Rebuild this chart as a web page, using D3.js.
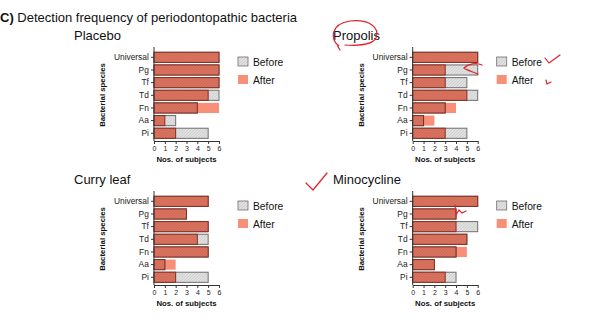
<!DOCTYPE html>
<html><head><meta charset="utf-8">
<script src="https://cdn.jsdelivr.net/npm/d3@7"></script>
<style>
body{margin:0;background:#fff;}
svg{display:block;font-family:"Liberation Sans",Arial,sans-serif;}
</style></head>
<body><svg id="c" width="602" height="328"></svg>
<script>
const categories = ["Universal","Pg","Tf","Td","Fn","Aa","Pi"];
const panelNames = ["Placebo","Propolis","Curry leaf","Minocycline"];
const beforePlacebo = [6,6,6,6,4,2,5];
const afterPlacebo  = [6,6,6,5,6,1,2];
const beforePropolis = [6,6,5,6,3,1,5];
const afterPropolis  = [6,3,3,5,4,2,3];
const beforeCurry = [5,3,5,5,5,1,5];
const afterCurry  = [5,3,5,4,5,2,2];
const beforeMino = [6,4,6,5,4,2,4];
const afterMino  = [6,4,4,5,5,2,3];
const xTicks = [0,1,2,3,4,5,6];
const legendLabels = ["Before","After"];

const panels = [
  {name:panelNames[0], before:beforePlacebo, after:afterPlacebo, ax:154, top:51, tx:74, ty:40},
  {name:panelNames[1], before:beforePropolis, after:afterPropolis, ax:412.7, top:51, tx:333, ty:40},
  {name:panelNames[2], before:beforeCurry, after:afterCurry, ax:154, top:195, tx:74, ty:184},
  {name:panelNames[3], before:beforeMino, after:afterMino, ax:412.7, top:195, tx:333, ty:184}
];

const svg = d3.select("#c");
const defs = svg.append("defs");
function hatch(id, bg, fg){
  const p = defs.append("pattern").attr("id",id).attr("patternUnits","userSpaceOnUse")
    .attr("width",3).attr("height",3);
  p.append("rect").attr("width",3).attr("height",3).attr("fill",bg);
  p.append("path").attr("d","M0,3L3,0").attr("stroke",fg).attr("stroke-width",0.6);
}
hatch("hGrey","#e0e0e0","#c4c4c4");
hatch("hRed","#d9725e","#c9624f");

const colOverlapStroke = "#7d3024";
const colGreyStroke = "#6e6e6e";
const colAfter = "#f88f79";

svg.append("text").attr("x",0).attr("y",22).attr("font-size",13).attr("fill","#111")
  .html('<tspan font-weight="bold">C)</tspan> Detection frequency of periodontopathic bacteria');

panels.forEach(P=>{
  const g = svg.append("g");
  const x = d3.scaleLinear().domain([0,6]).range([P.ax, P.ax+65]);
  const y = d3.scaleBand().domain(categories).range([P.top, P.top+88.6]).paddingInner(0.2).paddingOuter(0.1);
  const data = categories.map((c,i)=>({c, b:P.before[i], a:P.after[i]}));
  const bottom = P.top+90;

  g.append("text").attr("x",P.tx).attr("y",P.ty).attr("font-size",13).attr("fill","#111").text(P.name);

  g.selectAll(".aft").data(data).join("rect")
    .attr("x",x(0)).attr("y",d=>y(d.c)).attr("width",d=>x(d.a)-x(0)).attr("height",y.bandwidth())
    .attr("fill",colAfter);
  g.selectAll(".bef").data(data).join("rect")
    .attr("x",x(0)).attr("y",d=>y(d.c)).attr("width",d=>x(d.b)-x(0)).attr("height",y.bandwidth())
    .attr("fill","url(#hGrey)").attr("stroke",colGreyStroke).attr("stroke-width",1);
  g.selectAll(".ov").data(data).join("rect")
    .attr("x",x(0)).attr("y",d=>y(d.c)).attr("width",d=>x(Math.min(d.a,d.b))-x(0)).attr("height",y.bandwidth())
    .attr("fill","url(#hRed)").attr("stroke",colOverlapStroke).attr("stroke-width",1);

  const xa = g.append("g").attr("transform",`translate(0,${bottom})`)
    .call(d3.axisBottom(x).tickValues(xTicks).tickFormat(d3.format("d")).tickSize(3).tickSizeOuter(0));
  xa.select(".domain").attr("stroke","#333");
  xa.selectAll("line").attr("stroke","#333");
  xa.selectAll("text").attr("font-size",7).attr("fill","#222").attr("dy","0.6em");
  const ya = g.append("g").attr("transform",`translate(${P.ax},0)`)
    .call(d3.axisLeft(y).tickSize(3).tickSizeOuter(0));
  ya.select(".domain").attr("d",`M0,${P.top-4}V${bottom}`).attr("stroke","#333");
  ya.selectAll("line").attr("stroke","#333");
  ya.selectAll("text").attr("font-size",8.4).attr("fill","#222").attr("dx","0.1em");

  g.append("text").attr("x",P.ax+32.5).attr("y",bottom+21).attr("text-anchor","middle")
    .attr("font-size",7.8).attr("font-weight","bold").attr("fill","#111").text("Nos. of subjects");
  g.append("text").attr("transform",`translate(${P.ax-49},${P.top+44}) rotate(-90)`).attr("text-anchor","middle")
    .attr("font-size",7.8).attr("font-weight","bold").attr("fill","#111").text("Bacterial species");

  const lx = P.ax+84, ly = P.top+6;
  legendLabels.forEach((t,i)=>{
    g.append("rect").attr("x",lx).attr("y",ly+i*18).attr("width",10).attr("height",9)
      .attr("fill", i===0?"url(#hGrey)":colAfter).attr("stroke", i===0?colGreyStroke:"none").attr("stroke-width",0.8);
    g.append("text").attr("x",lx+15).attr("y",ly+i*18+8.5).attr("font-size",10.3).attr("fill","#111").text(t);
  });
});

const ann = svg.append("g").attr("fill","none").attr("stroke","#e0202a").attr("stroke-width",1.2).attr("stroke-linecap","round");
ann.append("path").attr("d","M340,50 Q336,44 339,46 C330,40 330,24 350,21 C370,19 380,28 376,38 C373,44 360,46 345,45");
ann.append("path").attr("d","M545,58 L549,63 L560,55");
ann.append("path").attr("d","M546,80 L547,84 L551,82");
ann.append("path").attr("d","M482,65 C476,62 468,64 464,68 C468,71 474,72 478,74");
ann.append("path").attr("d","M306,183 L313,190 L327,173");
ann.append("path").attr("d","M455,205 L456,215 L459,210 L462,213 L466,211");
</script></body></html>
